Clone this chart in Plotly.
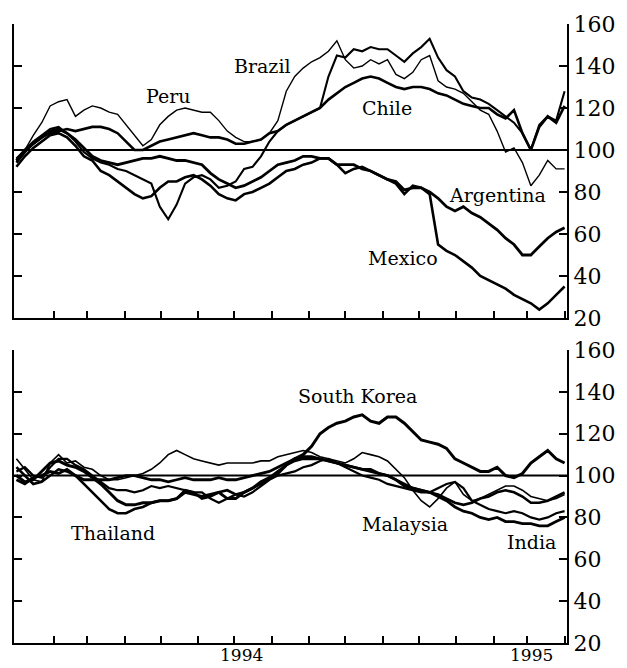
import pandas as pd
import plotly.graph_objects as go

# Weekly observations, 1 Jan 1994 - 1 Apr 1995 (index, start = 100)
weeks = pd.date_range("1994-01-01", periods=66, freq="7D")

# --- Latin America ---
brazil = [95, 100, 107, 113, 121, 123, 124, 116, 119, 121, 120, 118, 117, 112, 107, 102,
          105, 112, 116, 119, 120, 119, 118, 118, 114, 109, 106, 104, 104, 105, 108, 114,
          128, 135, 139, 142, 144, 147, 152, 143, 139, 140, 143, 141, 143, 136, 134, 137,
          143, 145, 133, 130, 129, 127, 123, 119, 117, 109, 99, 101, 94, 83, 88, 95, 91, 91]
peru = [96, 100, 104, 107, 110, 111, 108, 104, 99, 96, 94, 93, 91, 90, 88, 86,
        84, 73, 67, 74, 84, 87, 88, 86, 82, 83, 85, 91, 92, 97, 104, 109,
        112, 114, 116, 118, 120, 135, 145, 144, 148, 147, 149, 148, 148, 145, 142, 146,
        149, 153, 144, 138, 135, 128, 125, 124, 122, 119, 116, 113, 108, 100, 112, 116, 114, 128]
chile = [94, 99, 103, 106, 108, 109, 110, 109, 110, 111, 111, 110, 108, 104, 100, 100,
         102, 104, 105, 106, 107, 108, 107, 106, 106, 105, 103, 103, 104, 105, 108, 109,
         112, 114, 116, 118, 120, 124, 127, 130, 132, 134, 135, 134, 132, 130, 129, 130,
         130, 129, 127, 126, 124, 122, 121, 120, 120, 117, 115, 119, 108, 100, 111, 116, 113, 121]
argentina = [95, 100, 103, 106, 109, 110, 108, 105, 101, 97, 95, 94, 93, 94, 95, 96,
             96, 97, 96, 95, 95, 94, 93, 89, 86, 84, 82, 83, 85, 87, 90, 93,
             94, 95, 97, 97, 96, 96, 93, 93, 93, 91, 90, 88, 86, 85, 81, 82,
             82, 80, 77, 73, 71, 73, 70, 68, 65, 62, 58, 55, 50, 50, 54, 58, 61, 63]
mexico = [92, 97, 101, 104, 107, 108, 106, 102, 97, 95, 90, 88, 85, 82, 79, 77,
          78, 82, 85, 85, 87, 88, 86, 83, 79, 77, 76, 79, 80, 82, 84, 87,
          90, 91, 93, 94, 96, 96, 93, 89, 91, 92, 90, 88, 86, 84, 79, 83,
          82, 79, 55, 52, 50, 47, 44, 40, 38, 36, 34, 31, 29, 27, 24, 27, 31, 35]

# --- Asia ---
south_korea = [100, 97, 98, 102, 106, 107, 105, 104, 102, 99, 96, 92, 88, 86, 86, 87,
               87, 88, 88, 89, 92, 91, 90, 91, 92, 89, 89, 92, 94, 97, 99, 101,
               105, 108, 110, 114, 120, 123, 125, 126, 128, 129, 126, 125, 128, 128, 125, 121,
               117, 116, 115, 113, 108, 106, 104, 102, 102, 104, 100, 99, 101, 106, 109, 112, 108, 106]
malaysia = [108, 103, 98, 97, 106, 110, 106, 107, 104, 103, 100, 98, 98, 99, 100, 101,
            103, 106, 110, 112, 110, 108, 107, 106, 105, 106, 106, 106, 106, 107, 107, 109,
            110, 111, 112, 111, 109, 108, 107, 106, 108, 111, 110, 109, 107, 103, 99, 93,
            88, 85, 89, 94, 97, 91, 88, 89, 91, 93, 95, 95, 93, 90, 89, 88, 89, 91]
thailand = [104, 100, 96, 97, 100, 103, 102, 100, 96, 92, 88, 84, 82, 82, 84, 85,
            87, 88, 88, 89, 93, 92, 89, 90, 92, 93, 91, 92, 94, 96, 99, 102,
            105, 107, 108, 108, 108, 107, 106, 105, 104, 103, 103, 101, 100, 98, 96, 94,
            93, 92, 91, 89, 87, 86, 87, 89, 90, 92, 93, 92, 90, 87, 87, 88, 90, 92]
india = [98, 96, 99, 100, 102, 101, 103, 100, 98, 98, 98, 98, 99, 100, 100, 99,
         98, 98, 97, 98, 99, 98, 98, 98, 99, 98, 98, 99, 100, 101, 102, 104,
         106, 108, 109, 109, 108, 107, 106, 105, 104, 103, 102, 101, 100, 98, 95, 94,
         93, 92, 90, 88, 85, 83, 82, 80, 79, 80, 78, 78, 77, 77, 76, 76, 78, 80]
philippines = [102, 104, 100, 99, 104, 108, 108, 105, 103, 100, 97, 94, 93, 93, 92, 93,
               95, 94, 95, 94, 93, 92, 92, 89, 87, 89, 91, 90, 92, 95, 98, 100,
               101, 102, 104, 105, 107, 108, 106, 104, 102, 100, 99, 98, 96, 95, 94, 93,
               92, 92, 94, 96, 97, 94, 88, 86, 84, 83, 82, 83, 82, 80, 79, 80, 82, 83]

y_ticks = [20, 40, 60, 80, 100, 120, 140, 160]
month_ticks = pd.date_range("1994-02-01", "1995-04-01", freq="MS")

# (series, line width) per panel
top_series = [(brazil, 1.4), (peru, 2.1), (chile, 2.6), (argentina, 2.8), (mexico, 2.6)]
bottom_series = [(south_korea, 3.0), (malaysia, 1.6), (thailand, 2.6), (india, 2.8), (philippines, 2.2)]

fig = go.Figure()
for vals, w in top_series:
    fig.add_trace(go.Scatter(x=weeks, y=vals, mode="lines", xaxis="x", yaxis="y",
                             line=dict(color="black", width=w), showlegend=False))
for vals, w in bottom_series:
    fig.add_trace(go.Scatter(x=weeks, y=vals, mode="lines", xaxis="x2", yaxis="y2",
                             line=dict(color="black", width=w), showlegend=False))

W, H = 627, 668
ML, MR, MT, MB = 13, 53, 24, 25
PW, PH = W - ML - MR, H - MT - MB


def paper(px, py):
    return (px - ML) / PW, (H - MB - py) / PH


serif = "DejaVu Serif"
xrange_ = ["1993-12-30", "1995-04-03"]

xcommon = dict(range=xrange_, showline=True, linewidth=2, linecolor="black",
               ticks="inside", ticklen=7, tickwidth=2, tickcolor="black",
               tickvals=month_ticks, showticklabels=False, showgrid=False, zeroline=False)
ycommon = dict(range=[20, 160], side="right", showline=True, mirror="ticks", linewidth=2,
               linecolor="black", ticks="inside", ticklen=8, tickwidth=2, tickcolor="black",
               tickvals=y_ticks, showgrid=False, zeroline=False,
               tickfont=dict(family=serif, size=22, color="black"))

top_dom = [(H - MB - 318) / PH, 1]
bot_dom = [0, (H - MB - 350) / PH]

fig.update_layout(
    width=W, height=H,
    margin=dict(l=ML, r=MR, t=MT, b=MB),
    paper_bgcolor="white", plot_bgcolor="white",
    xaxis=dict(domain=[0, 1], anchor="y", **xcommon),
    yaxis=dict(domain=top_dom, anchor="x", **ycommon),
    xaxis2=dict(domain=[0, 1], anchor="y2", **xcommon),
    yaxis2=dict(domain=bot_dom, anchor="x2", **ycommon),
)

# reference line at 100 in both panels
for xr, yr in (("x", "y"), ("x2", "y2")):
    fig.add_shape(type="line", xref=f"{xr} domain", yref=yr, x0=0, x1=1, y0=100, y1=100,
                  line=dict(color="black", width=2))

labels = [("Peru", 170, 96), ("Brazil", 265, 66), ("Chile", 391, 108),
          ("Argentina", 504, 195), ("Mexico", 408, 258),
          ("South Korea", 361, 396), ("Thailand", 113, 533),
          ("Malaysia", 410, 524), ("India", 538, 542)]
for text, px, py in labels:
    ax, ay = paper(px, py)
    fig.add_annotation(text=text, x=ax, y=ay, xref="paper", yref="paper",
                       showarrow=False, xanchor="center", yanchor="middle",
                       font=dict(family=serif, size=19, color="black"))

# year labels under the lower time axis
for text, px, py in (("1994", 244, 655), ("1995", 538, 655)):
    ax, ay = paper(px, py)
    fig.add_annotation(text=text, x=ax, y=ay, xref="paper", yref="paper",
                       showarrow=False, xanchor="center", yanchor="middle",
                       font=dict(family=serif, size=17, color="black"))

fig.write_html("out.html")
